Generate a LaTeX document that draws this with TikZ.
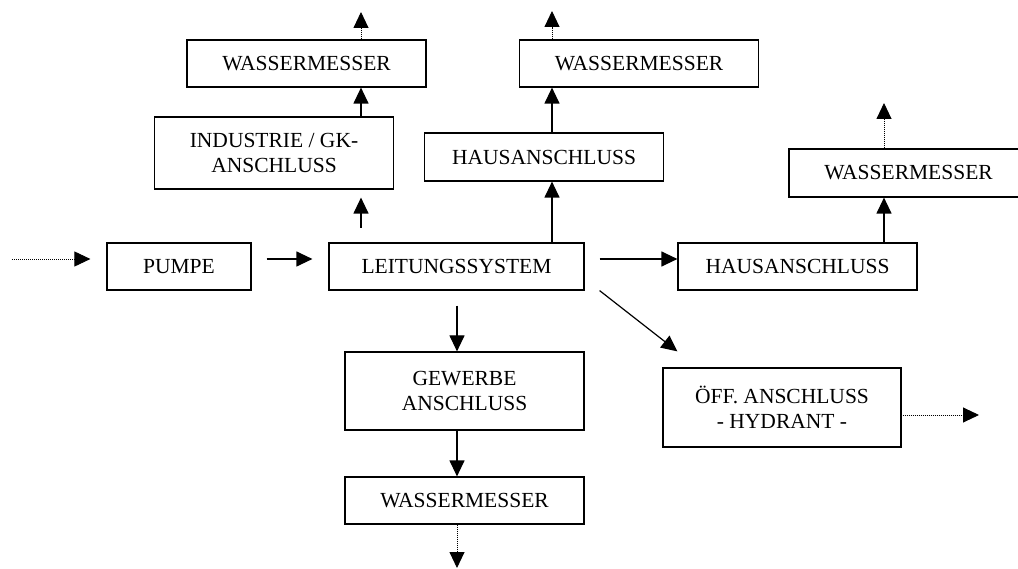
\documentclass[tikz,border=0pt]{standalone}
\usepackage{fontspec}
\setmainfont{Liberation Serif}
\usetikzlibrary{arrows.meta}
\tikzset{
  box/.style={draw,line width=1.2pt,inner sep=0pt,align=center,minimum width=239pt,minimum height=47pt,font=\fontsize{21.5}{25}\selectfont},
  arr/.style={line width=1.2pt,-{Triangle[length=16pt,width=15pt]}},
  dotarr/.style={line width=0.9pt,dash pattern=on 1pt off 1pt,-{Triangle[length=16pt,width=15pt]}}
}
\begin{document}
\begin{tikzpicture}[x=1pt,y=-1pt]
\useasboundingbox (0,0) rectangle (1018,569);
\node[box] (wmA) at (306.5,63.5) {WASSERMESSER};
\node[box,minimum height=72pt] (ind) at (274,153) {INDUSTRIE / GK-\\ANSCHLUSS};
\node[box] (wmB) at (639,63.5) {WASSERMESSER};
\node[box,minimum height=48pt] (hausA) at (544,157) {HAUSANSCHLUSS};
\node[box,minimum height=48pt] (wmC) at (908.5,173) {WASSERMESSER};
\node[box,minimum width=144pt] (pumpe) at (179,266.5) {PUMPE};
\node[box,minimum width=255pt] (leit) at (456.5,266.5) {LEITUNGSSYSTEM};
\node[box] (hausB) at (797.5,266.5) {HAUSANSCHLUSS};
\node[box,minimum height=78pt] (gew) at (464.5,391) {GEWERBE\\ANSCHLUSS};
\node[box] (wmD) at (464.5,500.5) {WASSERMESSER};
\node[box,minimum width=238pt,minimum height=79pt] (oeff) at (782,407.5) {ÖFF. ANSCHLUSS\\- HYDRANT -};

\coordinate (xA) at (361,0);
\coordinate (xB) at (552,0);
\coordinate (xC) at (884,0);
\coordinate (xD) at (457,0);
\coordinate (inL) at (12,259);
\coordinate (lowA) at (361,228);
\coordinate (topA) at (361,12);
\coordinate (topB) at (552,11);
\coordinate (topC) at (884,103);
\coordinate (botD) at (457,568);
\coordinate (outR) at (979,415);

\draw[dotarr] (inL) -- ([shift={(-16,-7.5)}]pumpe.west);
\draw[arr] ([shift={(15,-7.5)}]pumpe.east) -- ([shift={(-16,-7.5)}]leit.west);
\draw[arr] ([shift={(15,-7.5)}]leit.east) -- ([shift={(0,-7.5)}]hausB.west);

\draw[arr,shorten >=8pt] (lowA) -- (ind.south -| xA);
\draw[arr] (ind.north -| xA) -- (wmA.south -| xA);
\draw[dotarr] (wmA.north -| xA) -- (topA);

\draw[arr] (leit.north -| xB) -- (hausA.south -| xB);
\draw[arr] (hausA.north -| xB) -- (wmB.south -| xB);
\draw[dotarr] (wmB.north -| xB) -- (topB);

\draw[arr] (hausB.north -| xC) -- (wmC.south -| xC);
\draw[dotarr] (wmC.north -| xC) -- (topC);

\draw[arr,shorten <=15pt] (leit.south -| xD) -- (gew.north -| xD);
\draw[arr] (gew.south -| xD) -- (wmD.north -| xD);
\draw[dotarr] (wmD.south -| xD) -- (botD);

\draw[arr] ([shift={(15,0)}]leit.south east) -- ([shift={(15,-16)}]oeff.north west);
\draw[dotarr] ([shift={(1,7.5)}]oeff.east) -- (outR);
\end{tikzpicture}
\end{document}
